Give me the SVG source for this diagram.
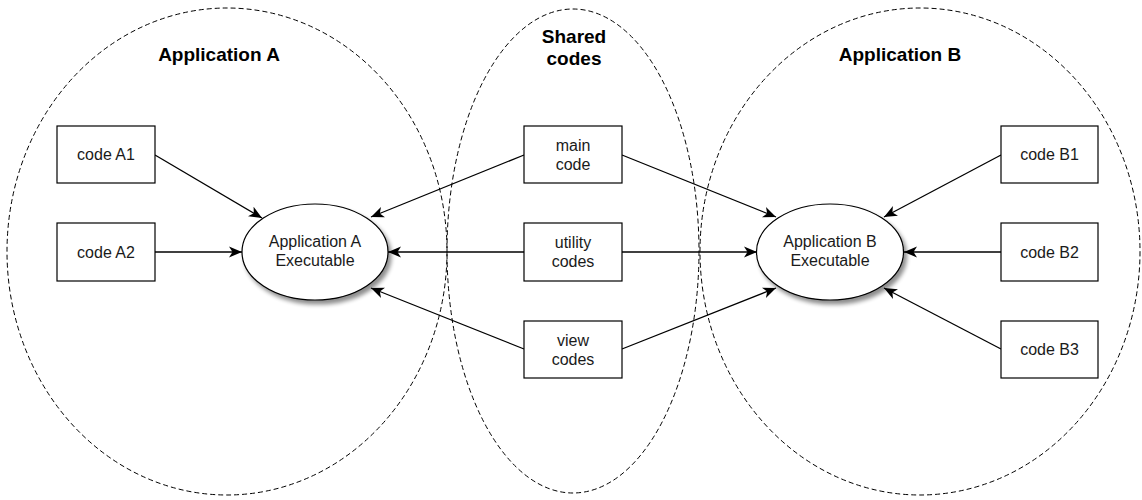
<svg xmlns="http://www.w3.org/2000/svg" width="1142" height="500" viewBox="0 0 1142 500">
  <style>
    .region { fill: none; stroke: #000; stroke-width: 1; stroke-dasharray: 5 3; }
    .title { font-family: "Liberation Sans", Arial, sans-serif; font-size: 19px; font-weight: bold; fill: #000; text-anchor: middle; }
    .box { fill: #fff; stroke: #000; stroke-width: 1.2; }
    .exe { fill: #fff; stroke: #000; stroke-width: 1.2; }
    .label { font-family: "Liberation Sans", Arial, sans-serif; font-size: 16px; fill: #1a1a1a; text-anchor: middle; }
    .edge { stroke: #000; stroke-width: 1.3; fill: none; marker-end: url(#arrow); }
  </style>
  <defs>
    <marker id="arrow" markerUnits="userSpaceOnUse" markerWidth="14" markerHeight="12" viewBox="0 0 14 12" refX="13" refY="6" orient="auto">
      <path d="M0,0.5 L13,6 L0,11.5 L3.5,6 Z" fill="#000"/>
    </marker>
    <filter id="shadow" x="-20%" y="-20%" width="150%" height="160%">
      <feGaussianBlur in="SourceAlpha" stdDeviation="2"/>
      <feOffset dx="3" dy="4" result="blur"/>
      <feComponentTransfer><feFuncA type="linear" slope="0.45"/></feComponentTransfer>
      <feMerge><feMergeNode/><feMergeNode in="SourceGraphic"/></feMerge>
    </filter>
  </defs>

  <rect width="1142" height="500" fill="#fff"/>

  <!-- dashed regions -->
  <g id="region-app-a">
    <ellipse class="region" cx="227" cy="251.5" rx="220" ry="243.5"/>
    <text class="title" x="219" y="61">Application A</text>
  </g>
  <g id="region-shared">
    <ellipse class="region" cx="573" cy="251" rx="126" ry="242"/>
    <text class="title" x="574" y="43">Shared</text>
    <text class="title" x="574" y="65">codes</text>
  </g>
  <g id="region-app-b">
    <ellipse class="region" cx="920" cy="251.5" rx="220" ry="243.5"/>
    <text class="title" x="900" y="61">Application B</text>
  </g>

  <!-- connectors -->
  <g id="connectors">
    <line class="edge" x1="155" y1="155" x2="262" y2="218"/>
    <line class="edge" x1="155" y1="252" x2="242" y2="252"/>
    <line class="edge" x1="524" y1="155" x2="371" y2="217"/>
    <line class="edge" x1="524" y1="252" x2="388" y2="252"/>
    <line class="edge" x1="524" y1="349" x2="371" y2="288"/>
    <line class="edge" x1="622" y1="155" x2="776" y2="217"/>
    <line class="edge" x1="622" y1="252" x2="757" y2="252"/>
    <line class="edge" x1="622" y1="349" x2="776" y2="288"/>
    <line class="edge" x1="1001" y1="155" x2="884" y2="217"/>
    <line class="edge" x1="1001" y1="252" x2="904" y2="252"/>
    <line class="edge" x1="1001" y1="349" x2="884" y2="288"/>
  </g>

  <!-- executables -->
  <g id="exe-a">
    <ellipse class="exe" cx="315" cy="252" rx="73" ry="48" filter="url(#shadow)"/>
    <text class="label" x="315" y="247">Application A</text>
    <text class="label" x="315" y="266">Executable</text>
  </g>
  <g id="exe-b">
    <ellipse class="exe" cx="830" cy="252" rx="73.5" ry="48" filter="url(#shadow)"/>
    <text class="label" x="830" y="247">Application B</text>
    <text class="label" x="830" y="266">Executable</text>
  </g>

  <!-- application A sources -->
  <g id="code-a1">
    <rect class="box" x="57" y="126" width="98" height="57"/>
    <text class="label" x="106" y="160">code A1</text>
  </g>
  <g id="code-a2">
    <rect class="box" x="57" y="223" width="98" height="58"/>
    <text class="label" x="106" y="258">code A2</text>
  </g>

  <!-- shared sources -->
  <g id="main-code">
    <rect class="box" x="524" y="126" width="98" height="57"/>
    <text class="label" x="573" y="151">main</text>
    <text class="label" x="573" y="170">code</text>
  </g>
  <g id="utility-codes">
    <rect class="box" x="524" y="223" width="98" height="58"/>
    <text class="label" x="573" y="248">utility</text>
    <text class="label" x="573" y="267">codes</text>
  </g>
  <g id="view-codes">
    <rect class="box" x="524" y="321" width="98" height="57"/>
    <text class="label" x="573" y="346">view</text>
    <text class="label" x="573" y="365">codes</text>
  </g>

  <!-- application B sources -->
  <g id="code-b1">
    <rect class="box" x="1001" y="126" width="97" height="57"/>
    <text class="label" x="1049.5" y="160">code B1</text>
  </g>
  <g id="code-b2">
    <rect class="box" x="1001" y="223" width="97" height="58"/>
    <text class="label" x="1049.5" y="258">code B2</text>
  </g>
  <g id="code-b3">
    <rect class="box" x="1001" y="321" width="97" height="57"/>
    <text class="label" x="1049.5" y="355">code B3</text>
  </g>
</svg>
